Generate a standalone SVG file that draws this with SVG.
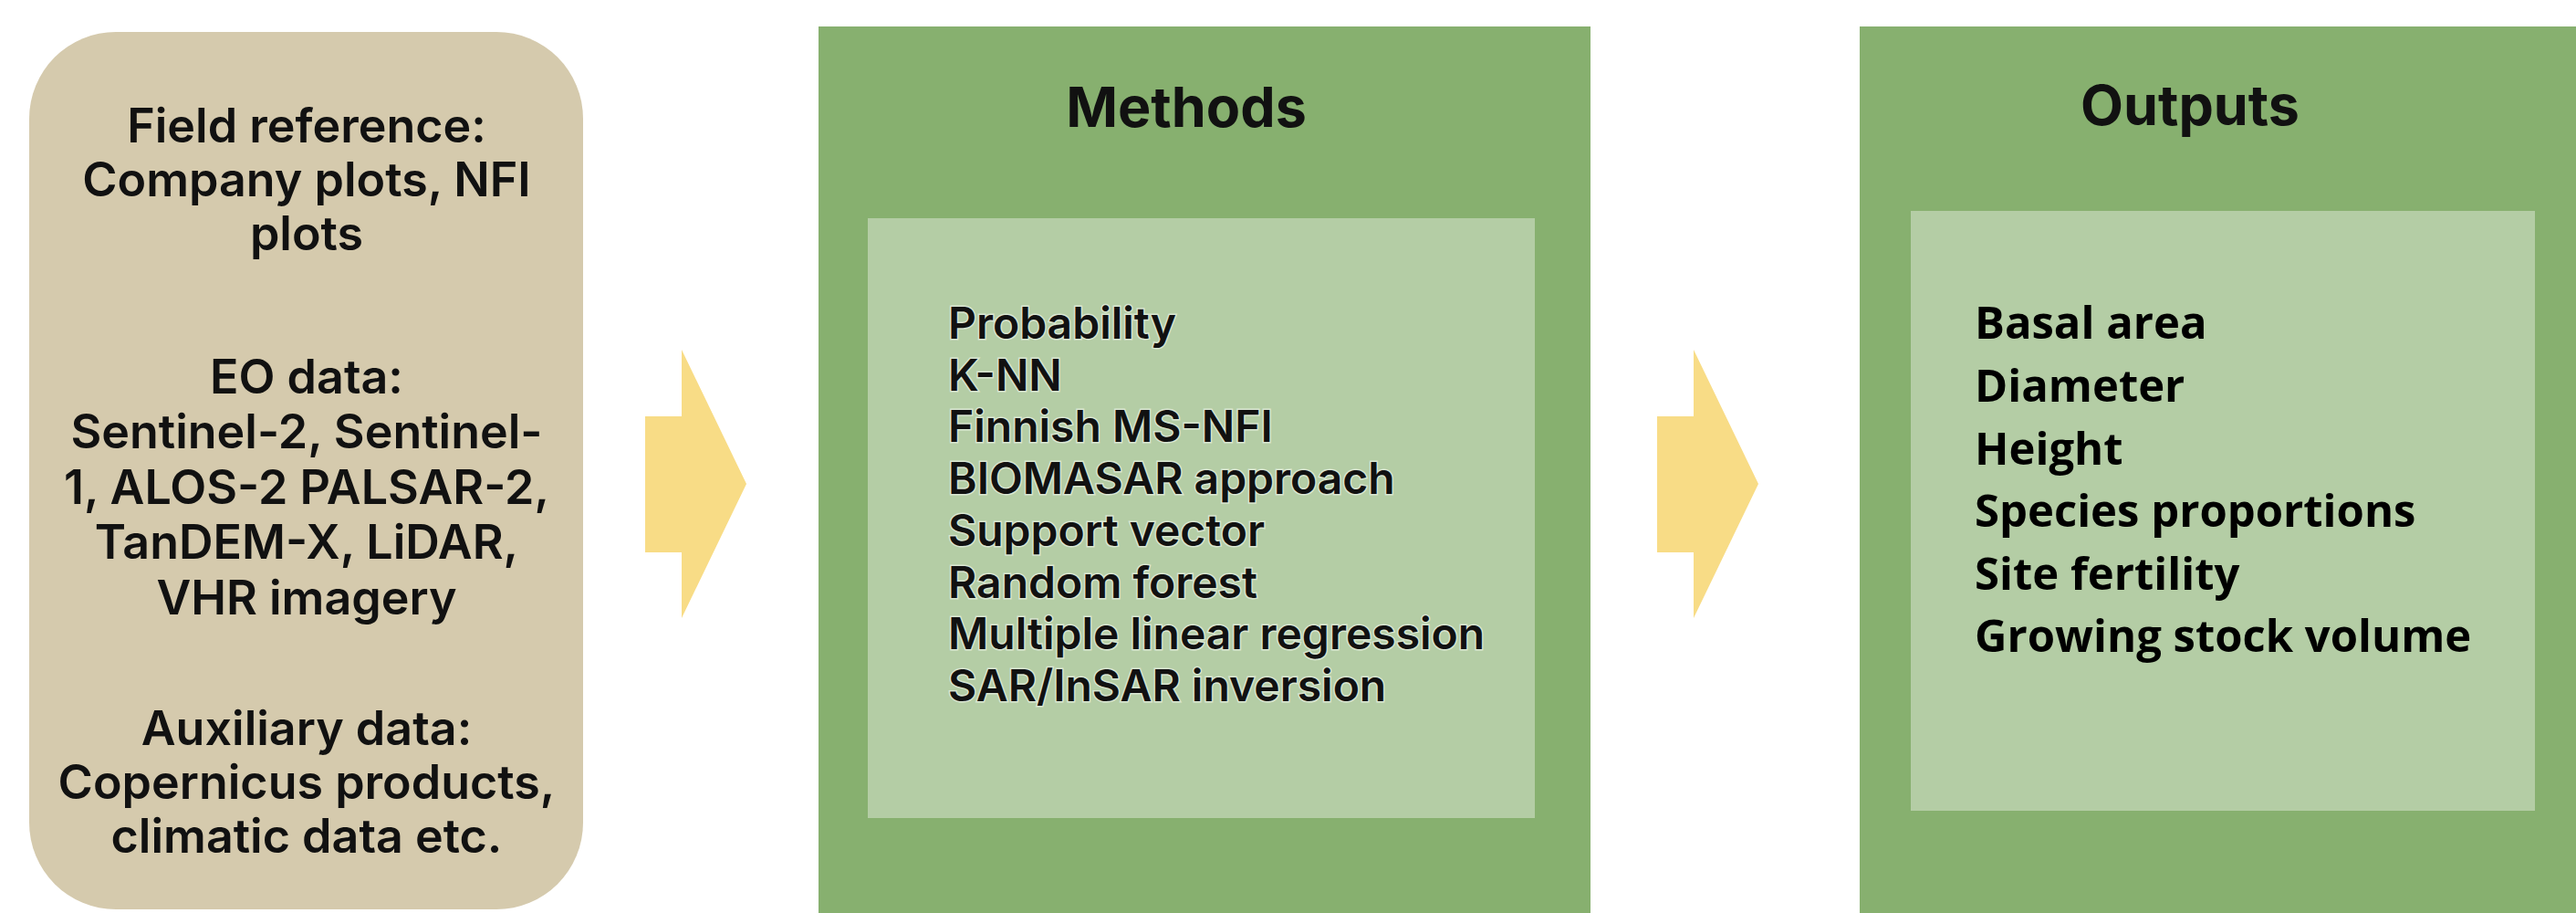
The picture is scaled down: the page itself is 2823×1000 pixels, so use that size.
<svg xmlns="http://www.w3.org/2000/svg" width="2823" height="1000" viewBox="0 0 2823 1000">
  <style>
    .bg { fill: #ffffff; }
    .tan { fill: #D5CAAD; }
    .green { fill: #87B06F; }
    .light { fill: #B4CDA5; }
    .arrow { fill: #F8DC86; }
    .lt { font-family: Inter, "Noto Sans", "Liberation Sans", sans-serif; font-weight: 600; font-size: 52px; fill: #111111; text-anchor: middle; }
    .title { font-family: Inter, "Noto Sans", "Liberation Sans", sans-serif; font-weight: 700; font-size: 61px; fill: #111111; text-anchor: middle; }
    .meth { font-family: Inter, "Noto Sans", "Liberation Sans", sans-serif; font-weight: 600; font-size: 48px; fill: #111111; stroke: #ffffff; stroke-opacity: 0.5; stroke-width: 3px; paint-order: stroke; }
    .out { font-family: "Open Sans", "Noto Sans", "Liberation Sans", sans-serif; font-weight: 700; font-size: 49px; fill: #000000; }
  </style>
  <rect class="bg" x="0" y="0" width="2823" height="1000"/>

  <g id="inputs">
    <rect class="tan" x="32" y="35" width="607" height="961" rx="95" ry="95"/>
    <text class="lt" x="336" y="156">Field reference:</text>
    <text class="lt" x="336" y="215">Company plots, NFI</text>
    <text class="lt" x="336" y="274">plots</text>
    <text class="lt" x="336" y="431">EO data:</text>
    <text class="lt" x="336" y="491">Sentinel-2, Sentinel-</text>
    <text class="lt" x="336" y="552">1, ALOS-2 PALSAR-2,</text>
    <text class="lt" x="336" y="612">TanDEM-X, LiDAR,</text>
    <text class="lt" x="336" y="673">VHR imagery</text>
    <text class="lt" x="336" y="816">Auxiliary data:</text>
    <text class="lt" x="336" y="875">Copernicus products,</text>
    <text class="lt" x="336" y="934">climatic data etc.</text>
  </g>

  <g id="methods">
    <rect class="green" x="897" y="29" width="846" height="971"/>
    <rect class="light" x="951" y="239" width="731" height="657"/>
    <text class="title" x="1300" y="139">Methods</text>
    <text class="meth" x="1039" y="371">Probability</text>
    <text class="meth" x="1039" y="428">K-NN</text>
    <text class="meth" x="1039" y="484">Finnish MS-NFI</text>
    <text class="meth" x="1039" y="541">BIOMASAR approach</text>
    <text class="meth" x="1039" y="598">Support vector</text>
    <text class="meth" x="1039" y="655">Random forest</text>
    <text class="meth" x="1039" y="711">Multiple linear regression</text>
    <text class="meth" x="1039" y="768">SAR/InSAR inversion</text>
  </g>

  <g id="outputs">
    <rect class="green" x="2038" y="29" width="785" height="971"/>
    <rect class="light" x="2094" y="231" width="684" height="657"/>
    <text class="title" x="2400" y="137">Outputs</text>
    <text class="out" x="2164" y="371">Basal area</text>
    <text class="out" x="2164" y="440">Diameter</text>
    <text class="out" x="2164" y="509">Height</text>
    <text class="out" x="2164" y="577">Species proportions</text>
    <text class="out" x="2164" y="646">Site fertility</text>
    <text class="out" x="2164" y="714">Growing stock volume</text>
  </g>

  <g id="connectors">
    <polygon class="arrow" points="707,456 747,456 747,383 818,530 747,677 747,605 707,605"/>
    <polygon class="arrow" points="1816,456 1856,456 1856,383 1927,530 1856,677 1856,605 1816,605"/>
  </g>
</svg>
